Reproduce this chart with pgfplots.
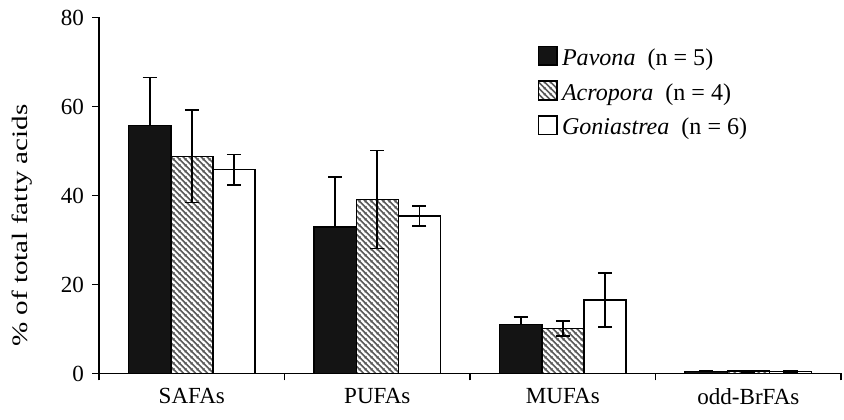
\documentclass[border={2.5pt 4pt 1pt 1.5pt}]{standalone}
\usepackage{fontspec}
\setmainfont{Liberation Serif}
\usepackage{graphicx}
\usepackage{pgfplots}
\pgfplotsset{compat=1.18}
\usetikzlibrary{patterns.meta}
\tikzdeclarepattern{
  name=hatch,
  parameters={},
  bounding box={(0,0) and (2.8pt,2.8pt)},
  tile size={(2.8pt,2.8pt)},
  code={
    \draw[line width=0.85pt] (-0.3pt,3.1pt) -- (3.1pt,-0.3pt);
    \draw[line width=0.85pt] (-0.3pt,0.3pt) -- (0.3pt,-0.3pt);
    \draw[line width=0.85pt] (2.5pt,3.1pt) -- (3.1pt,2.5pt);
  }
}
\begin{document}
\begin{tikzpicture}
\begin{axis}[
  scale only axis,
  width=370pt, height=177.5pt,
  xmin=0.5, xmax=4.5,
  ymin=0, ymax=80,
  ytick={0,20,40,60,80},
  xtick={1,2,3,4},
  xticklabels={SAFAs,PUFAs,MUFAs,odd-BrFAs},
  minor xtick={0.5,1.5,2.5,3.5,4.5},
  major x tick style={draw=none},
  minor tick length=3.5pt,
  major tick length=3.5pt,
  tick align=outside,
  axis x line*=bottom,
  axis y line*=left,
  axis line style={line width=0.85pt},
  tick style={line width=0.85pt, black},
  /pgf/number format/assume math mode=true,
  ticklabel style={font=\fontsize{11.5}{13}\selectfont},
  yticklabel style={xshift=-0.5pt},
  xticklabel style={yshift=-0.5pt},
  ylabel={\scalebox{1.32}[1]{\% of total fatty acids}},
  ylabel style={font=\fontsize{11}{12}\selectfont, at={(axis description cs:0,0.5)}, anchor=center, yshift=38.5pt, xshift=-15pt},
  ybar=0pt,
  bar width=21pt,
  legend style={draw=none, fill=none, inner sep=0pt, at={(0.5905,0.925)}, anchor=north west,
    font=\fontsize{12}{14}\selectfont, row sep=3.5pt, cells={anchor=west}},
  legend image code/.code={\draw[#1, line width=0.85pt] (0pt,-3.3pt) rectangle (9.3pt,6pt);},
  error bars/error bar style={line width=0.9pt, black},
  error bars/error mark options={rotate=90, mark size=3.5pt, line width=0.9pt, black},
]
\addplot[fill=black!92, draw=black, line width=0.75pt,
  error bars/.cd, y dir=plus, y explicit]
  coordinates {(1,55.7) +- (0,10.8) (2,32.9) +- (0,11.3) (3,11.0) +- (0,1.6) (4,0.4) +- (0,0.1)};
\addlegendentry{\textit{Pavona}\ \ (n = 5)}
\addplot[pattern=hatch, pattern color=black!65, draw=black, line width=0.75pt,
  error bars/.cd, y dir=both, y explicit]
  coordinates {(1,48.8) +- (0,10.4) (2,39.1) +- (0,11.0) (3,10.1) +- (0,1.7) (4,0.5) +- (0,0.1)};
\addlegendentry{\textit{Acropora}\ \ (n = 4)}
\addplot[fill=white, draw=black, line width=0.75pt,
  error bars/.cd, y dir=both, y explicit]
  coordinates {(1,45.8) +- (0,3.4) (2,35.4) +- (0,2.3) (3,16.5) +- (0,6.1) (4,0.4) +- (0,0.1)};
\addlegendentry{\textit{Goniastrea}\ \ (n = 6)}
\end{axis}
\end{tikzpicture}
\end{document}
